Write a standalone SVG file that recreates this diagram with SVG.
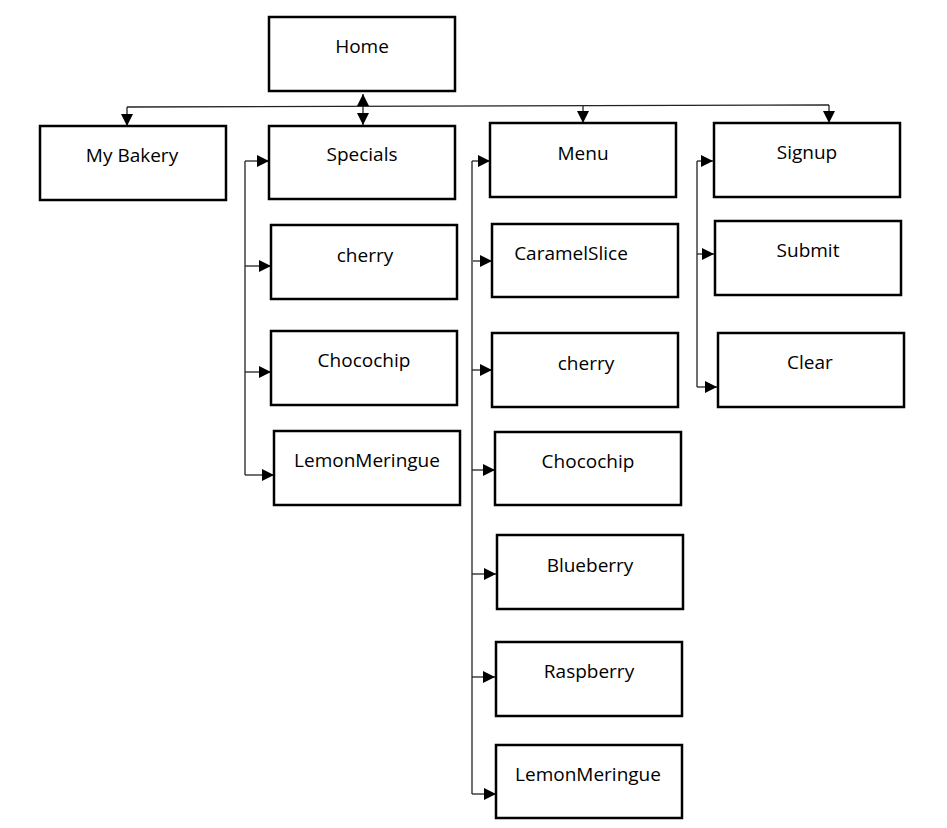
<svg xmlns="http://www.w3.org/2000/svg" width="947" height="828" viewBox="0 0 947 828">
<style>
.box{fill:#fff;stroke:#000;stroke-width:2.5}
.lbl{font-family:"Open Sans","Liberation Sans",sans-serif;font-size:19px;fill:#000;text-anchor:middle}
.con{fill:none;stroke:#222;stroke-width:1.3}
.arr{marker-end:url(#ah)}
</style>
<defs>
<marker id="ah" markerUnits="userSpaceOnUse" markerWidth="13" markerHeight="13" refX="12" refY="6" orient="auto">
<path d="M0,0 L12,6 L0,12 z" fill="#000"/>
</marker>
<marker id="ahs" markerUnits="userSpaceOnUse" markerWidth="13" markerHeight="13" refX="12" refY="6" orient="auto-start-reverse">
<path d="M0,0 L12,6 L0,12 z" fill="#000"/>
</marker>
</defs>
<rect width="947" height="828" fill="#fff"/>
<g id="connectors">
<path class="con" d="M127,107 L829,105"/>
<path class="con arr" d="M127,107 L127,126"/>
<path class="con arr" d="M583,105 L583,123"/>
<path class="con arr" d="M829,105 L829,123"/>
<path class="con" d="M363,94 L363,125" marker-start="url(#ahs)" marker-end="url(#ahs)"/>
<path class="con" d="M245,161 L245,475"/>
<path class="con arr" d="M245,161 L269,161"/>
<path class="con arr" d="M245,266 L271,266"/>
<path class="con arr" d="M245,372 L271,372"/>
<path class="con arr" d="M245,475 L274,475"/>
<path class="con" d="M472,161 L472,794"/>
<path class="con arr" d="M472,161 L490,161"/>
<path class="con arr" d="M473,261 L492,261"/>
<path class="con arr" d="M472,370 L492,370"/>
<path class="con arr" d="M472,470 L495,470"/>
<path class="con arr" d="M472,574 L496,574"/>
<path class="con arr" d="M472,677 L495,677"/>
<path class="con arr" d="M472,794 L496,794"/>
<path class="con" d="M697,161 L697,387"/>
<path class="con arr" d="M697,161 L713,161"/>
<path class="con arr" d="M697,254 L714,254"/>
<path class="con arr" d="M697,387 L717,387"/>
</g>
<g id="home"><rect class="box" x="269" y="17" width="186" height="74"/><text class="lbl" x="362" y="53">Home</text></g>
<g id="mybakery"><rect class="box" x="40" y="126" width="186" height="74"/><text class="lbl" x="132" y="162">My Bakery</text></g>
<g id="specials"><rect class="box" x="269" y="126" width="186" height="73"/><text class="lbl" x="362" y="161">Specials</text></g>
<g id="sp-cherry"><rect class="box" x="271" y="225" width="186" height="74"/><text class="lbl" x="365" y="262">cherry</text></g>
<g id="sp-chocochip"><rect class="box" x="271" y="331" width="186" height="74"/><text class="lbl" x="364" y="367">Chocochip</text></g>
<g id="sp-lemon"><rect class="box" x="274" y="431" width="186" height="74"/><text class="lbl" x="367" y="467">LemonMeringue</text></g>
<g id="menu"><rect class="box" x="490" y="123" width="186" height="74"/><text class="lbl" x="583" y="160">Menu</text></g>
<g id="mn-caramel"><rect class="box" x="492" y="224" width="186" height="73"/><text class="lbl" x="571" y="260">CaramelSlice</text></g>
<g id="mn-cherry"><rect class="box" x="492" y="333" width="186" height="74"/><text class="lbl" x="586" y="370">cherry</text></g>
<g id="mn-chocochip"><rect class="box" x="495" y="432" width="186" height="73"/><text class="lbl" x="588" y="468">Chocochip</text></g>
<g id="mn-blueberry"><rect class="box" x="497" y="535" width="186" height="74"/><text class="lbl" x="590" y="572">Blueberry</text></g>
<g id="mn-raspberry"><rect class="box" x="496" y="642" width="186" height="74"/><text class="lbl" x="589" y="678">Raspberry</text></g>
<g id="mn-lemon"><rect class="box" x="496" y="745" width="186" height="73"/><text class="lbl" x="588" y="781">LemonMeringue</text></g>
<g id="signup"><rect class="box" x="714" y="123" width="186" height="74"/><text class="lbl" x="807" y="159">Signup</text></g>
<g id="submit"><rect class="box" x="715" y="221" width="186" height="74"/><text class="lbl" x="808" y="257">Submit</text></g>
<g id="clear"><rect class="box" x="718" y="333" width="186" height="74"/><text class="lbl" x="810" y="369">Clear</text></g>
</svg>
